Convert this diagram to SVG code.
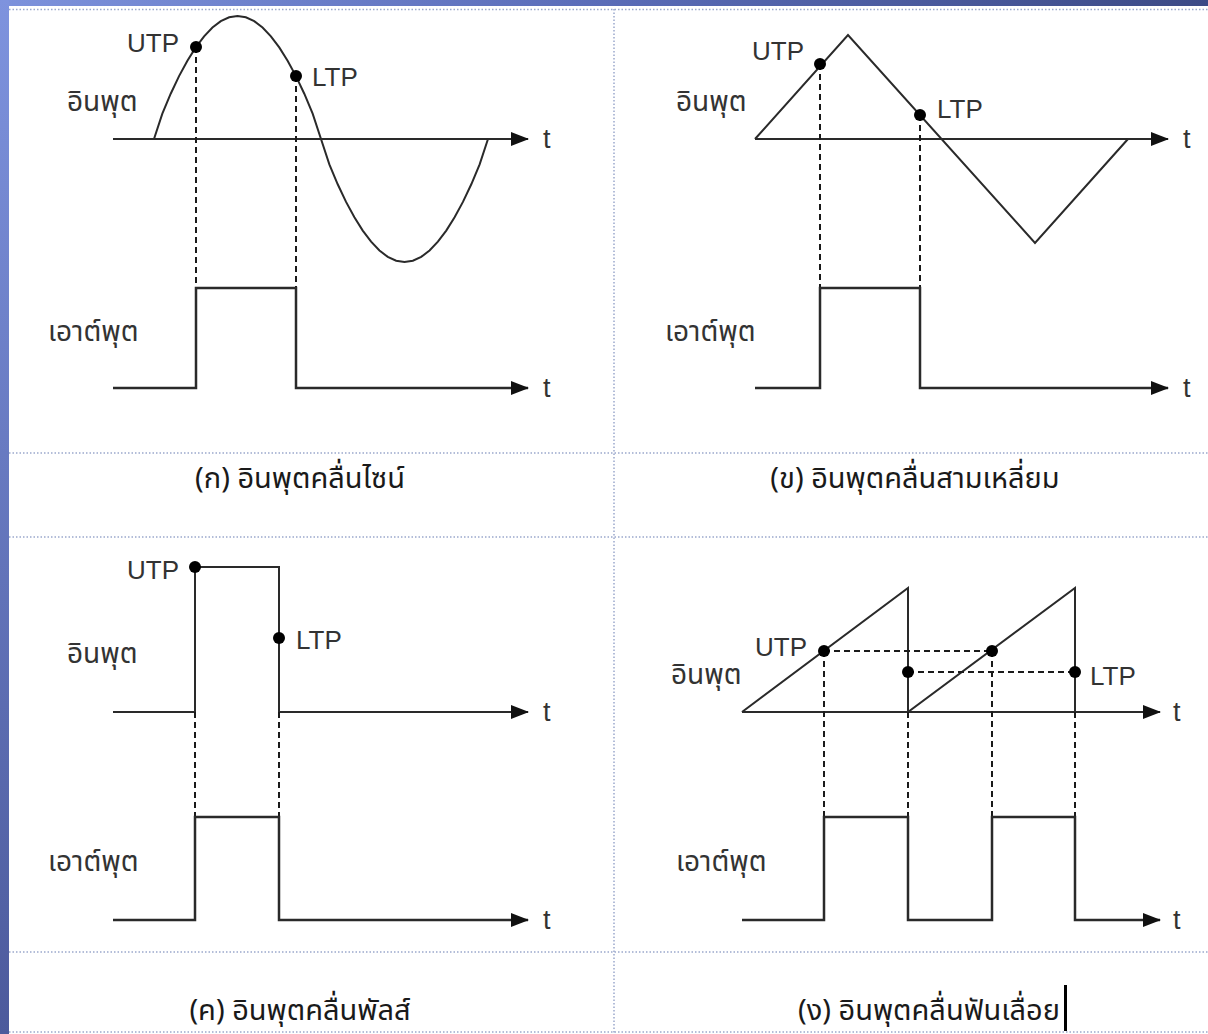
<svg xmlns="http://www.w3.org/2000/svg" width="1208" height="1034" viewBox="0 0 1208 1034">
<defs>
<linearGradient id="topband" x1="0" y1="0" x2="1" y2="0">
<stop offset="0" stop-color="#7d92dc"/>
<stop offset="0.5" stop-color="#5a6cb8"/>
<stop offset="1" stop-color="#3c4a86"/>
</linearGradient>
<linearGradient id="leftband" x1="0" y1="0" x2="0" y2="1">
<stop offset="0" stop-color="#7e93de"/>
<stop offset="1" stop-color="#4c5a9c"/>
</linearGradient>
<marker id="arr" viewBox="0 0 18 14" refX="17" refY="7" markerWidth="18" markerHeight="14" markerUnits="userSpaceOnUse" orient="auto">
<path d="M0,0 L18,7 L0,14 Z" fill="#111"/>
</marker>
<style>
.ln{fill:none;stroke:#2a2a2a;stroke-width:2;stroke-linejoin:miter}
.out{fill:none;stroke:#2a2a2a;stroke-width:2.5}
.dash{fill:none;stroke:#1a1a1a;stroke-width:2;stroke-dasharray:6,4}
.grid{fill:none;stroke:#9aa8cc;stroke-width:1.5;stroke-dasharray:1.5,2}
.dot{fill:#000}
.lbl{font-family:"Liberation Sans","Noto Sans",sans-serif;font-size:26px;fill:#333}
.tt{font-family:"Liberation Sans","Noto Sans",sans-serif;font-size:27px;fill:#333}
.th{font-family:"Noto Sans Thai","Liberation Sans",sans-serif;font-size:28px;fill:#333}
.cap{font-family:"Noto Sans Thai","Liberation Sans",sans-serif;font-size:29px;fill:#1a1a1a;text-anchor:middle}
</style>
</defs>
<rect x="0" y="0" width="1208" height="1034" fill="#ffffff"/>
<rect x="0" y="0" width="1208" height="6" fill="url(#topband)"/>
<rect x="0" y="0" width="9" height="1034" fill="url(#leftband)"/>
<g id="grid">
<line class="grid" x1="9" y1="9.5" x2="1208" y2="9.5"/>
<line class="grid" x1="9" y1="453" x2="1208" y2="453"/>
<line class="grid" x1="9" y1="537" x2="1208" y2="537"/>
<line class="grid" x1="9" y1="952" x2="1208" y2="952"/>
<line class="grid" x1="9" y1="1032" x2="1208" y2="1032"/>
<line class="grid" x1="614" y1="9" x2="614" y2="1034"/>
</g>
<g id="connectors">
<line class="ln" x1="113" y1="139" x2="528" y2="139" marker-end="url(#arr)"/>
<polyline class="ln" points="154,139 162.35,113.6 170.7,93.7 179.05,76.1 187.4,60.7 195.75,47.4 204.1,36.3 212.45,27.5 220.8,21.1 229.15,17.3 237.5,16 245.85,17.3 254.2,21.1 262.55,27.5 270.9,36.3 279.25,47.4 287.6,60.7 295.95,76.1 304.3,93.7 312.65,113.6 321,139 329.35,164.4 337.7,184.3 346.05,201.9 354.4,217.3 362.75,230.6 371.1,241.7 379.45,250.5 387.8,256.9 396.15,260.7 404.5,262 412.85,260.7 421.2,256.9 429.55,250.5 437.9,241.7 446.25,230.6 454.6,217.3 462.95,201.9 471.3,184.3 479.65,164.4 488,139"/>
<line class="dash" x1="196" y1="47" x2="196" y2="288"/>
<line class="dash" x1="296" y1="76" x2="296" y2="288"/>
<polyline class="out" points="113,388 196,388 196,288 296,288 296,388 528,388" marker-end="url(#arr)"/>
<line class="ln" x1="755" y1="139" x2="1168" y2="139" marker-end="url(#arr)"/>
<polyline class="ln" points="755,139 848,35 1035,243 1128,139"/>
<line class="dash" x1="820" y1="64" x2="820" y2="288"/>
<line class="dash" x1="920" y1="115" x2="920" y2="288"/>
<polyline class="out" points="755,388 820,388 820,288 920,288 920,388 1168,388" marker-end="url(#arr)"/>
<polyline class="ln" points="113,712 195,712 195,567 279,567 279,712"/>
<line class="ln" x1="279" y1="712" x2="528" y2="712" marker-end="url(#arr)"/>
<line class="dash" x1="195" y1="712" x2="195" y2="817"/>
<line class="dash" x1="279" y1="712" x2="279" y2="817"/>
<polyline class="out" points="113,920 195,920 195,817 279,817 279,920 528,920" marker-end="url(#arr)"/>
<line class="ln" x1="742" y1="712" x2="1160" y2="712" marker-end="url(#arr)"/>
<polyline class="ln" points="742,712 908,588 908,712 1075,588 1075,712"/>
<line class="dash" x1="824" y1="651" x2="992" y2="651"/>
<line class="dash" x1="908" y1="672" x2="1075" y2="672"/>
<line class="dash" x1="824" y1="651" x2="824" y2="817"/>
<line class="dash" x1="908" y1="712" x2="908" y2="817"/>
<line class="dash" x1="992" y1="651" x2="992" y2="817"/>
<line class="dash" x1="1075" y1="712" x2="1075" y2="817"/>
<polyline class="out" points="742,920 824,920 824,817 908,817 908,920 992,920 992,817 1075,817 1075,920 1160,920" marker-end="url(#arr)"/>
</g>
<g id="panel-a">
<circle class="dot" cx="196" cy="47" r="6"/>
<circle class="dot" cx="296" cy="76" r="6"/>
<text class="lbl" x="127" y="52">UTP</text>
<text class="lbl" x="312" y="86">LTP</text>
<text class="th" x="67" y="111">อินพุต</text>
<text class="th" x="48" y="341">เอาต์พุต</text>
<text class="tt" x="543" y="148">t</text>
<text class="tt" x="543" y="397">t</text>
<text class="cap" x="300" y="488">(ก) อินพุตคลื่นไซน์</text>
</g>
<g id="panel-b">
<circle class="dot" cx="820" cy="64" r="6"/>
<circle class="dot" cx="920" cy="115" r="6"/>
<text class="lbl" x="752" y="60">UTP</text>
<text class="lbl" x="937" y="118">LTP</text>
<text class="th" x="676" y="111">อินพุต</text>
<text class="th" x="665" y="341">เอาต์พุต</text>
<text class="tt" x="1183" y="148">t</text>
<text class="tt" x="1183" y="397">t</text>
<text class="cap" x="915" y="488">(ข) อินพุตคลื่นสามเหลี่ยม</text>
</g>
<g id="panel-c">
<circle class="dot" cx="195" cy="567" r="6"/>
<circle class="dot" cx="279" cy="638" r="6"/>
<text class="lbl" x="127" y="579">UTP</text>
<text class="lbl" x="296" y="649">LTP</text>
<text class="th" x="67" y="663">อินพุต</text>
<text class="th" x="48" y="871">เอาต์พุต</text>
<text class="tt" x="543" y="721">t</text>
<text class="tt" x="543" y="929">t</text>
<text class="cap" x="300" y="1020">(ค) อินพุตคลื่นพัลส์</text>
</g>
<g id="panel-d">
<circle class="dot" cx="824" cy="651" r="6"/>
<circle class="dot" cx="992" cy="651" r="6"/>
<circle class="dot" cx="908" cy="672" r="6"/>
<circle class="dot" cx="1075" cy="672" r="6"/>
<text class="lbl" x="755" y="656">UTP</text>
<text class="lbl" x="1090" y="685">LTP</text>
<text class="th" x="671" y="684">อินพุต</text>
<text class="th" x="676" y="871">เอาต์พุต</text>
<text class="tt" x="1173" y="721">t</text>
<text class="tt" x="1173" y="929">t</text>
<text class="cap" x="929" y="1020">(ง) อินพุตคลื่นฟันเลื่อย</text>
<rect x="1064" y="985" width="3" height="46" fill="#000"/>
</g>
</svg>
